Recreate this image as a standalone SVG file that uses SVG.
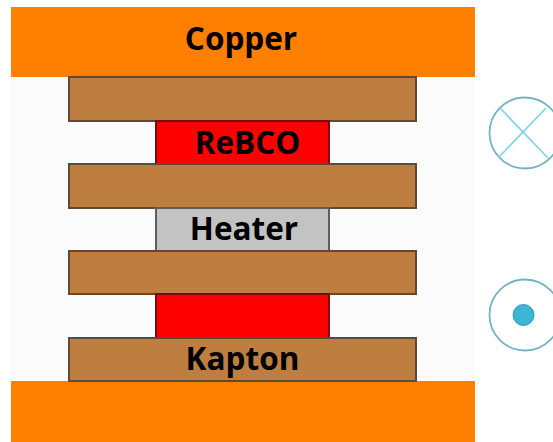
<svg xmlns="http://www.w3.org/2000/svg" width="553" height="442" viewBox="0 0 553 442">
<style>
.k{fill:#bd7e40;stroke:#5f4a36;stroke-width:2}
.t{font-family:"Open Sans","Noto Sans","DejaVu Sans",sans-serif;font-weight:700;font-size:31.5px;text-anchor:middle;fill:#000}
.c{fill:#fff;stroke:#72b4c4;stroke-width:1.8}
.x{stroke:#86d6e6;stroke-width:1.8}
</style>
<rect width="553" height="442" fill="#fff"/>
<rect x="11" y="70" width="464" height="320" fill="#fbfbfb"/>
<g id="copper-top"><rect x="11" y="7" width="464" height="70" fill="#ff8000"/><text class="t" x="241" y="50">Copper</text></g>
<g id="copper-bottom"><rect x="11" y="381" width="464" height="61" fill="#ff8000"/></g>
<g id="kapton-1"><rect class="k" x="69" y="77" width="347" height="44"/></g>
<g id="rebco-1"><rect x="156" y="121" width="173" height="43" fill="#f00" stroke="#6e1010" stroke-width="2"/><text class="t" x="247.500" y="154">ReBCO</text></g>
<g id="kapton-2"><rect class="k" x="69" y="164" width="347" height="44"/></g>
<g id="heater"><rect x="156" y="208" width="173" height="43" fill="#c3c3c3" stroke="#5e5e5e" stroke-width="2"/><text class="t" x="244" y="240">Heater</text></g>
<g id="kapton-3"><rect class="k" x="69" y="251" width="347" height="43"/></g>
<g id="rebco-2"><rect x="156" y="294" width="173" height="44" fill="#f00" stroke="#6e1010" stroke-width="2"/></g>
<g id="kapton-4"><rect class="k" x="69" y="338" width="347" height="43"/><text class="t" x="242.500" y="370">Kapton</text></g>
<g id="current-in"><circle class="c" cx="525" cy="133" r="35.500"/><path class="x" d="M500 108L548 158M546 108L499 157"/></g>
<g id="current-out"><circle class="c" cx="525" cy="315" r="35.500"/><circle cx="523.500" cy="315" r="10.500" fill="#3bb7d3" stroke="#2f9db5"/></g>
<g id="connectors"></g>
</svg>
